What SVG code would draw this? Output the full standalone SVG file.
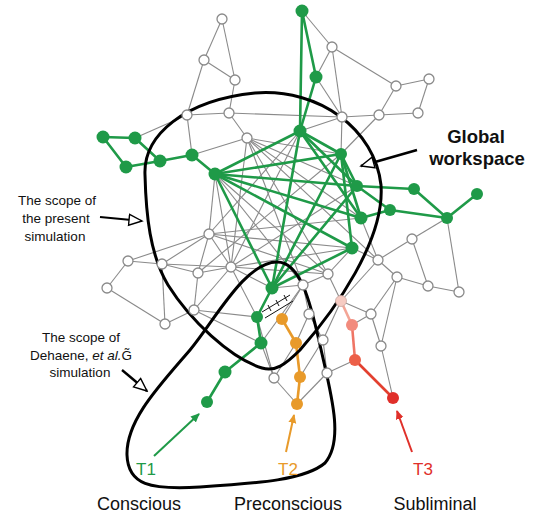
<svg xmlns="http://www.w3.org/2000/svg" width="535" height="513" viewBox="0 0 535 513">
<defs>
<style>
.e{stroke:#8a8a8a;stroke-width:1.1;fill:none}
.gE{stroke:#1f9a48;stroke-width:2.6;fill:none;stroke-linecap:round}
.oE{stroke:#e89a2a;stroke-width:2.6;fill:none}
.o{fill:#fff;stroke:#8a8a8a;stroke-width:1.3}
.g{fill:#1f9a48}
.y{fill:#e89a2a}
.loop{fill:none;stroke:#000;stroke-width:3}
.t{font-family:"Liberation Sans",Arial,sans-serif;fill:#111}
</style>
<marker id="ahG" markerWidth="10" markerHeight="10" refX="8" refY="5" orient="auto" markerUnits="userSpaceOnUse"><path d="M0,1 L9,5 L0,9 Z" fill="#1f9a48"/></marker>
<marker id="ahY" markerWidth="10" markerHeight="10" refX="8" refY="5" orient="auto" markerUnits="userSpaceOnUse"><path d="M0,1 L9,5 L0,9 Z" fill="#e89a2a"/></marker>
<marker id="ahR" markerWidth="10" markerHeight="10" refX="8" refY="5" orient="auto" markerUnits="userSpaceOnUse"><path d="M0,1 L9,5 L0,9 Z" fill="#e0302a"/></marker>
<marker id="ahO" markerWidth="16" markerHeight="14" refX="14" refY="7" orient="auto" markerUnits="userSpaceOnUse"><path d="M1,1.5 L14,7 L1,12.5 Z" fill="#fff" stroke="#000" stroke-width="1.4"/></marker>
</defs>
<rect width="535" height="513" fill="#fff"/>
<g id="connectors">
<g id="grey-edges">
<line class="e" x1="302" y1="11" x2="332" y2="47"/>
<line class="e" x1="332" y1="47" x2="316" y2="77"/>
<line class="e" x1="332" y1="47" x2="396" y2="86"/>
<line class="e" x1="332" y1="47" x2="342" y2="117"/>
<line class="e" x1="316" y1="77" x2="342" y2="117"/>
<line class="e" x1="396" y1="86" x2="429" y2="79"/>
<line class="e" x1="396" y1="86" x2="379" y2="115"/>
<line class="e" x1="429" y1="79" x2="418" y2="113"/>
<line class="e" x1="379" y1="115" x2="418" y2="113"/>
<line class="e" x1="379" y1="115" x2="342" y2="117"/>
<line class="e" x1="342" y1="117" x2="300" y2="131"/>
<line class="e" x1="379" y1="115" x2="341" y2="154"/>
<line class="e" x1="342" y1="117" x2="341" y2="154"/>
<line class="e" x1="222" y1="19" x2="204" y2="60"/>
<line class="e" x1="222" y1="19" x2="235" y2="80"/>
<line class="e" x1="204" y1="60" x2="235" y2="80"/>
<line class="e" x1="204" y1="60" x2="187" y2="115"/>
<line class="e" x1="235" y1="80" x2="229" y2="113"/>
<line class="e" x1="187" y1="115" x2="229" y2="113"/>
<line class="e" x1="229" y1="113" x2="247" y2="138"/>
<line class="e" x1="187" y1="115" x2="135" y2="138"/>
<line class="e" x1="187" y1="115" x2="192" y2="155"/>
<line class="e" x1="192" y1="155" x2="247" y2="138"/>
<line class="e" x1="229" y1="113" x2="342" y2="117"/>
<line class="e" x1="247" y1="138" x2="341" y2="154"/>
<line class="e" x1="247" y1="138" x2="357" y2="186"/>
<line class="e" x1="247" y1="138" x2="361" y2="218"/>
<line class="e" x1="247" y1="138" x2="231" y2="267"/>
<line class="e" x1="247" y1="138" x2="328" y2="274"/>
<line class="e" x1="247" y1="138" x2="378" y2="260"/>
<line class="e" x1="247" y1="138" x2="303" y2="285"/>
<line class="e" x1="300" y1="131" x2="209" y2="234"/>
<line class="e" x1="300" y1="131" x2="231" y2="267"/>
<line class="e" x1="341" y1="154" x2="198" y2="273"/>
<line class="e" x1="357" y1="186" x2="231" y2="267"/>
<line class="e" x1="361" y1="218" x2="209" y2="234"/>
<line class="e" x1="352" y1="248" x2="209" y2="234"/>
<line class="e" x1="352" y1="248" x2="231" y2="267"/>
<line class="e" x1="215" y1="174" x2="209" y2="234"/>
<line class="e" x1="215" y1="174" x2="231" y2="267"/>
<line class="e" x1="215" y1="174" x2="303" y2="285"/>
<line class="e" x1="215" y1="174" x2="328" y2="274"/>
<line class="e" x1="209" y1="234" x2="162" y2="264"/>
<line class="e" x1="209" y1="234" x2="198" y2="273"/>
<line class="e" x1="209" y1="234" x2="231" y2="267"/>
<line class="e" x1="209" y1="234" x2="128" y2="261"/>
<line class="e" x1="209" y1="234" x2="328" y2="274"/>
<line class="e" x1="128" y1="261" x2="162" y2="264"/>
<line class="e" x1="128" y1="261" x2="107" y2="288"/>
<line class="e" x1="162" y1="264" x2="198" y2="273"/>
<line class="e" x1="162" y1="264" x2="165" y2="324"/>
<line class="e" x1="162" y1="264" x2="231" y2="267"/>
<line class="e" x1="198" y1="273" x2="231" y2="267"/>
<line class="e" x1="107" y1="288" x2="165" y2="324"/>
<line class="e" x1="198" y1="273" x2="194" y2="310"/>
<line class="e" x1="165" y1="324" x2="194" y2="310"/>
<line class="e" x1="231" y1="267" x2="194" y2="310"/>
<line class="e" x1="231" y1="267" x2="272" y2="288"/>
<line class="e" x1="231" y1="267" x2="328" y2="274"/>
<line class="e" x1="194" y1="310" x2="257" y2="317"/>
<line class="e" x1="194" y1="310" x2="261" y2="343"/>
<line class="e" x1="447" y1="218" x2="412" y2="239"/>
<line class="e" x1="447" y1="218" x2="459" y2="292"/>
<line class="e" x1="412" y1="239" x2="378" y2="260"/>
<line class="e" x1="412" y1="239" x2="428" y2="286"/>
<line class="e" x1="378" y1="260" x2="397" y2="277"/>
<line class="e" x1="397" y1="277" x2="428" y2="286"/>
<line class="e" x1="428" y1="286" x2="459" y2="292"/>
<line class="e" x1="361" y1="218" x2="378" y2="260"/>
<line class="e" x1="352" y1="248" x2="328" y2="274"/>
<line class="e" x1="352" y1="248" x2="378" y2="260"/>
<line class="e" x1="397" y1="277" x2="371" y2="314"/>
<line class="e" x1="397" y1="277" x2="381" y2="346"/>
<line class="e" x1="371" y1="314" x2="381" y2="346"/>
<line class="e" x1="341" y1="301" x2="371" y2="314"/>
<line class="e" x1="328" y1="274" x2="303" y2="285"/>
<line class="e" x1="328" y1="274" x2="341" y2="301"/>
<line class="e" x1="378" y1="260" x2="341" y2="301"/>
<line class="e" x1="303" y1="285" x2="272" y2="288"/>
<line class="e" x1="303" y1="285" x2="309" y2="314"/>
<line class="e" x1="303" y1="285" x2="282" y2="319"/>
<line class="e" x1="309" y1="314" x2="323" y2="340"/>
<line class="e" x1="323" y1="340" x2="327" y2="373"/>
<line class="e" x1="323" y1="340" x2="341" y2="301"/>
<line class="e" x1="297" y1="404" x2="327" y2="373"/>
<line class="e" x1="297" y1="404" x2="274" y2="378"/>
<line class="e" x1="274" y1="378" x2="261" y2="343"/>
<line class="e" x1="274" y1="378" x2="296" y2="343"/>
<line class="e" x1="296" y1="343" x2="309" y2="314"/>
<line class="e" x1="300" y1="377" x2="323" y2="340"/>
<line class="e" x1="381" y1="346" x2="393" y2="398"/>
<line class="e" x1="327" y1="373" x2="355" y2="360"/>
<line class="e" x1="371" y1="314" x2="352" y2="325"/>
<line class="e" x1="257" y1="317" x2="274" y2="378"/>
<line class="e" x1="261" y1="343" x2="303" y2="285"/>
<line class="e" x1="257" y1="317" x2="231" y2="267"/>
</g>
<g id="green-edges">
<line class="gE" x1="302" y1="11" x2="316" y2="77"/>
<line class="gE" x1="316" y1="77" x2="300" y2="131"/>
<line class="gE" x1="302" y1="11" x2="300" y2="131"/>
<line class="gE" x1="300" y1="131" x2="341" y2="154"/>
<line class="gE" x1="300" y1="131" x2="357" y2="186"/>
<line class="gE" x1="300" y1="131" x2="361" y2="218"/>
<line class="gE" x1="300" y1="131" x2="272" y2="288"/>
<line class="gE" x1="300" y1="131" x2="215" y2="174"/>
<line class="gE" x1="341" y1="154" x2="357" y2="186"/>
<line class="gE" x1="341" y1="154" x2="361" y2="218"/>
<line class="gE" x1="341" y1="154" x2="352" y2="248"/>
<line class="gE" x1="341" y1="154" x2="215" y2="174"/>
<line class="gE" x1="341" y1="154" x2="272" y2="288"/>
<line class="gE" x1="215" y1="174" x2="357" y2="186"/>
<line class="gE" x1="215" y1="174" x2="361" y2="218"/>
<line class="gE" x1="215" y1="174" x2="352" y2="248"/>
<line class="gE" x1="215" y1="174" x2="272" y2="288"/>
<line class="gE" x1="357" y1="186" x2="414" y2="189"/>
<line class="gE" x1="414" y1="189" x2="447" y2="218"/>
<line class="gE" x1="477" y1="194" x2="447" y2="218"/>
<line class="gE" x1="447" y1="218" x2="390" y2="210"/>
<line class="gE" x1="390" y1="210" x2="361" y2="218"/>
<line class="gE" x1="357" y1="186" x2="390" y2="210"/>
<line class="gE" x1="357" y1="186" x2="272" y2="288"/>
<line class="gE" x1="352" y1="248" x2="272" y2="288"/>
<line class="gE" x1="103" y1="137" x2="135" y2="138"/>
<line class="gE" x1="103" y1="137" x2="126" y2="167"/>
<line class="gE" x1="126" y1="167" x2="160" y2="161"/>
<line class="gE" x1="135" y1="138" x2="160" y2="161"/>
<line class="gE" x1="160" y1="161" x2="192" y2="155"/>
<line class="gE" x1="192" y1="155" x2="215" y2="174"/>
<line class="gE" x1="272" y1="288" x2="257" y2="317"/>
<line class="gE" x1="257" y1="317" x2="261" y2="343"/>
<line class="gE" x1="261" y1="343" x2="225" y2="372"/>
<line class="gE" x1="225" y1="372" x2="207" y2="402"/>
</g>
<g id="orange-edges">
<line class="oE" x1="282" y1="319" x2="296" y2="343"/>
<line class="oE" x1="296" y1="343" x2="300" y2="377"/>
<line class="oE" x1="300" y1="377" x2="297" y2="404"/>
</g>
<g id="red-edges">
<line x1="341" y1="301" x2="352" y2="325" stroke="#f3a596" stroke-width="2.6"/>
<line x1="352" y1="325" x2="355" y2="360" stroke="#ef7565" stroke-width="2.6"/>
<line x1="355" y1="360" x2="393" y2="398" stroke="#e3402f" stroke-width="2.6"/>
</g>
<g id="hatch" stroke="#111" stroke-width="1">
<line x1="262" y1="312" x2="290" y2="295"/>
<line x1="265" y1="318" x2="293" y2="301"/>
<line x1="268" y1="305" x2="271" y2="311"/>
<line x1="276" y1="300" x2="279" y2="306"/>
<line x1="284" y1="295" x2="287" y2="301"/>
</g>
<g id="input-arrows">
<line x1="154" y1="456" x2="199" y2="414" stroke="#1f9a48" stroke-width="2" marker-end="url(#ahG)"/>
<line x1="286" y1="452" x2="294" y2="415" stroke="#e89a2a" stroke-width="2" marker-end="url(#ahY)"/>
<line x1="412" y1="452" x2="397" y2="411" stroke="#e0302a" stroke-width="2" marker-end="url(#ahR)"/>
</g>
<g id="label-arrows">
<line x1="417" y1="150" x2="361" y2="166" stroke="#000" stroke-width="2.6" marker-end="url(#ahO)"/>
<line x1="100" y1="217" x2="142" y2="221" stroke="#000" stroke-width="2" marker-end="url(#ahO)"/>
<line x1="122" y1="370" x2="147" y2="391" stroke="#000" stroke-width="2.4" marker-end="url(#ahO)"/>
</g>
</g>
<g id="scopes">
<path id="scope-present" class="loop" d="M145,175 C143,135 185,100 255,93 C320,88 375,130 381,185 C385,240 335,310 300,350 C285,365 275,372 262,368 C230,358 190,320 168,285 C150,255 146,215 145,175 Z"/>
<path id="scope-dehaene" class="loop" d="M277,262 C300,262 310,300 320,345 C330,390 345,440 325,463 C305,480 260,483 200,487 C150,490 128,485 127,455 C126,420 160,385 190,350 C215,320 245,262 277,262 Z"/>
</g>
<g id="nodes">
<g id="o1"><circle class="o" cx="222" cy="19" r="5"/></g>
<g id="o2"><circle class="o" cx="204" cy="60" r="5"/></g>
<g id="o3"><circle class="o" cx="235" cy="80" r="5"/></g>
<g id="o4"><circle class="o" cx="187" cy="115" r="5"/></g>
<g id="o5"><circle class="o" cx="229" cy="113" r="5"/></g>
<g id="o6"><circle class="o" cx="247" cy="138" r="5"/></g>
<g id="o7"><circle class="o" cx="332" cy="47" r="5"/></g>
<g id="o8"><circle class="o" cx="396" cy="86" r="5"/></g>
<g id="o9"><circle class="o" cx="429" cy="79" r="5"/></g>
<g id="o10"><circle class="o" cx="379" cy="115" r="5"/></g>
<g id="o11"><circle class="o" cx="418" cy="113" r="5"/></g>
<g id="o12"><circle class="o" cx="342" cy="117" r="5"/></g>
<g id="o13"><circle class="o" cx="209" cy="234" r="5"/></g>
<g id="o14"><circle class="o" cx="128" cy="261" r="5"/></g>
<g id="o15"><circle class="o" cx="162" cy="264" r="5"/></g>
<g id="o16"><circle class="o" cx="198" cy="273" r="5"/></g>
<g id="o17"><circle class="o" cx="231" cy="267" r="5"/></g>
<g id="o18"><circle class="o" cx="107" cy="288" r="5"/></g>
<g id="o19"><circle class="o" cx="165" cy="324" r="5"/></g>
<g id="o20"><circle class="o" cx="194" cy="310" r="5"/></g>
<g id="o21"><circle class="o" cx="412" cy="239" r="5"/></g>
<g id="o22"><circle class="o" cx="378" cy="260" r="5"/></g>
<g id="o23"><circle class="o" cx="397" cy="277" r="5"/></g>
<g id="o24"><circle class="o" cx="428" cy="286" r="5"/></g>
<g id="o25"><circle class="o" cx="459" cy="292" r="5"/></g>
<g id="o26"><circle class="o" cx="328" cy="274" r="5"/></g>
<g id="o27"><circle class="o" cx="303" cy="285" r="5"/></g>
<g id="o28"><circle class="o" cx="309" cy="314" r="5"/></g>
<g id="o29"><circle class="o" cx="371" cy="314" r="5"/></g>
<g id="o30"><circle class="o" cx="381" cy="346" r="5"/></g>
<g id="o31"><circle class="o" cx="323" cy="340" r="5"/></g>
<g id="o32"><circle class="o" cx="327" cy="373" r="5"/></g>
<g id="o33"><circle class="o" cx="274" cy="378" r="5"/></g>
<g id="g1"><circle class="g" cx="302" cy="11" r="6.5"/></g>
<g id="g2"><circle class="g" cx="316" cy="77" r="6.5"/></g>
<g id="g3"><circle class="g" cx="300" cy="131" r="6.5"/></g>
<g id="g4"><circle class="g" cx="341" cy="154" r="6"/></g>
<g id="g5"><circle class="g" cx="357" cy="186" r="6"/></g>
<g id="g6"><circle class="g" cx="414" cy="189" r="6"/></g>
<g id="g7"><circle class="g" cx="477" cy="194" r="6"/></g>
<g id="g8"><circle class="g" cx="447" cy="218" r="6"/></g>
<g id="g9"><circle class="g" cx="390" cy="210" r="6"/></g>
<g id="g10"><circle class="g" cx="361" cy="218" r="6.5"/></g>
<g id="g11"><circle class="g" cx="352" cy="248" r="6.5"/></g>
<g id="h1"><circle class="g" cx="215" cy="174" r="6.5"/></g>
<g id="g12"><circle class="g" cx="192" cy="155" r="6.5"/></g>
<g id="g13"><circle class="g" cx="160" cy="161" r="6.5"/></g>
<g id="g14"><circle class="g" cx="135" cy="138" r="6.5"/></g>
<g id="g15"><circle class="g" cx="103" cy="137" r="6.5"/></g>
<g id="g16"><circle class="g" cx="126" cy="167" r="6.5"/></g>
<g id="c1"><circle class="g" cx="272" cy="288" r="6.5"/></g>
<g id="c2"><circle class="g" cx="257" cy="317" r="6"/></g>
<g id="c3"><circle class="g" cx="261" cy="343" r="6.5"/></g>
<g id="c4"><circle class="g" cx="225" cy="372" r="6.5"/></g>
<g id="c5"><circle class="g" cx="207" cy="402" r="6"/></g>
<g id="y1"><circle class="y" cx="282" cy="319" r="6"/></g>
<g id="y2"><circle class="y" cx="296" cy="343" r="6"/></g>
<g id="y3"><circle class="y" cx="300" cy="377" r="6"/></g>
<g id="y4"><circle class="y" cx="297" cy="404" r="6"/></g>
<g id="p1"><circle cx="341" cy="301" r="5.5" fill="#f6cbc2" stroke="#c9a8a2" stroke-width="0.8"/></g>
<g id="p2"><circle cx="352" cy="325" r="6" fill="#f28b7d"/></g>
<g id="p3"><circle cx="355" cy="360" r="6" fill="#ec5f48"/></g>
<g id="p4"><circle cx="393" cy="398" r="6" fill="#e02f2a"/></g>
</g>
<g id="labels">
<text class="t" x="476" y="143" font-size="18.5" font-weight="bold" text-anchor="middle">Global</text>
<text class="t" x="477" y="165" font-size="18.5" font-weight="bold" text-anchor="middle">workspace</text>
<text class="t" font-size="13.5" text-anchor="middle"><tspan x="57" y="205">The scope of</tspan><tspan x="56" y="223">the present</tspan><tspan x="55" y="241">simulation</tspan></text>
<text class="t" font-size="13.5" text-anchor="middle"><tspan x="81" y="342">The scope of</tspan><tspan x="81" y="360">Dehaene, <tspan font-style="italic">et al.</tspan>G̃</tspan><tspan x="80" y="377">simulation</tspan></text>
<text x="146" y="475" font-size="17" text-anchor="middle" font-family="Liberation Sans, Arial, sans-serif" fill="#1f9a48">T1</text>
<text x="288" y="475" font-size="17" text-anchor="middle" font-family="Liberation Sans, Arial, sans-serif" fill="#e89a2a">T2</text>
<text x="423" y="475" font-size="17" text-anchor="middle" font-family="Liberation Sans, Arial, sans-serif" fill="#e0302a">T3</text>
<text class="t" x="139" y="510" font-size="18" text-anchor="middle">Conscious</text>
<text class="t" x="288" y="510" font-size="18" text-anchor="middle">Preconscious</text>
<text class="t" x="435" y="510" font-size="18" text-anchor="middle">Subliminal</text>
</g>
</svg>
